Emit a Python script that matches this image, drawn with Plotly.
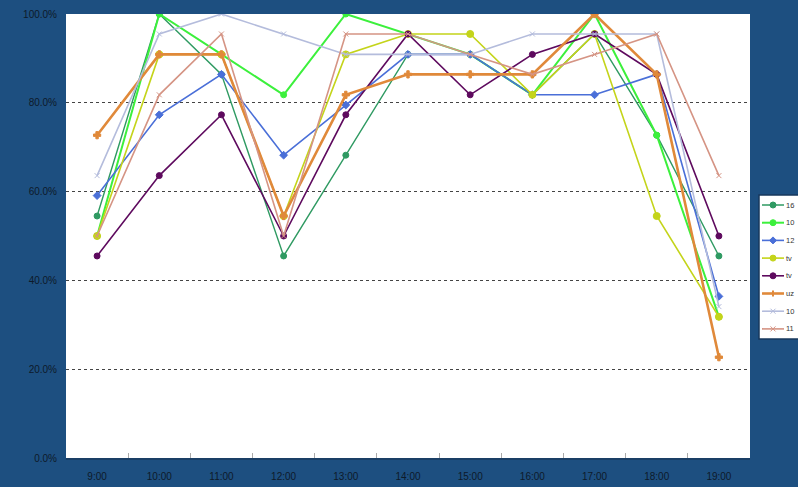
import plotly.graph_objects as go

# Hourly rates per line (percent)
times = ["9:00", "10:00", "11:00", "12:00", "13:00", "14:00",
         "15:00", "16:00", "17:00", "18:00", "19:00"]

names = ["16", "10", "12", "tv", "tv", "uz", "10", "11"]

s_16 = [54.5, 100.0, 86.4, 45.5, 68.2, 90.9, 90.9, 81.8, 95.5, 72.7, 45.5]
s_10a = [50.0, 100.0, 90.9, 81.8, 100.0, 95.5, 90.9, 81.8, 100.0, 72.7, 31.8]
s_12 = [59.1, 77.3, 86.4, 68.2, 79.5, 90.9, 90.9, 81.8, 81.8, 86.4, 36.4]
s_tva = [50.0, 90.9, 90.9, 54.5, 90.9, 95.5, 95.5, 81.8, 95.5, 54.5, 31.8]
s_tvb = [45.5, 63.6, 77.3, 50.0, 77.3, 95.5, 81.8, 90.9, 95.5, 86.4, 50.0]
s_uz = [72.7, 90.9, 90.9, 54.5, 81.8, 86.4, 86.4, 86.4, 100.0, 86.4, 22.7]
s_10b = [63.6, 95.5, 100.0, 95.5, 90.9, 90.9, 90.9, 95.5, 95.5, 95.5, 34.1]
s_11 = [50.0, 81.8, 95.5, 50.0, 95.5, 95.5, 90.9, 86.4, 90.9, 95.5, 63.6]

series = [s_16, s_10a, s_12, s_tva, s_tvb, s_uz, s_10b, s_11]

colors = ["#2f9a62", "#3cf03c", "#4a6fd8", "#c4d41a",
          "#5e0a5e", "#e0893a", "#b4bcdc", "#d59484"]
widths = [1.4, 2.0, 1.6, 1.6, 1.6, 2.6, 1.6, 1.6]
symbols = ["circle", "circle", "diamond", "circle",
           "circle", "cross", "x-thin", "x-thin"]
msizes = [6, 6, 6, 7, 6, 6, 5, 5]

W, H = 798, 487
L, R, T, B = 66, 48, 14, 29
PW, PH = W - L - R, H - T - B


def px(x):
    """Pixel x -> paper x."""
    return (x - L) / PW


def py(y):
    """Pixel y -> paper y."""
    return (H - B - y) / PH


fig = go.Figure()
for name, vals, col, w, sym, ms in zip(names, series, colors, widths, symbols, msizes):
    fig.add_trace(go.Scatter(
        x=times, y=vals, name=name, mode="lines+markers", showlegend=False,
        line=dict(color=col, width=w),
        marker=dict(color=col, symbol=sym, size=ms,
                    line=dict(color=col, width=1)),
    ))

# Legend panel on the right edge, drawn with shapes and annotations
shapes = []
annotations = []
box_l, box_t, box_b = 759, 195, 339
shapes.append(dict(type="rect", xref="paper", yref="paper",
                   x0=px(box_l), x1=px(W + 10), y0=py(box_b), y1=py(box_t),
                   fillcolor="#ffffff", line=dict(color="#17385c", width=1.5),
                   layer="above"))
row0, step = 205, 17.7
for i, (name, col, w, sym) in enumerate(zip(names, colors, widths, symbols)):
    yy = row0 + i * step
    shapes.append(dict(type="line", xref="paper", yref="paper",
                       x0=px(762), x1=px(784), y0=py(yy), y1=py(yy),
                       line=dict(color=col, width=max(w, 1.5)), layer="above"))
    cx = 773
    if sym == "circle":
        shapes.append(dict(type="circle", xref="paper", yref="paper",
                           x0=px(cx - 3), x1=px(cx + 3), y0=py(yy + 3), y1=py(yy - 3),
                           fillcolor=col, line=dict(color=col, width=1), layer="above"))
    elif sym == "diamond":
        path = "M {} {} L {} {} L {} {} L {} {} Z".format(
            px(cx), py(yy - 3.5), px(cx + 3.5), py(yy),
            px(cx), py(yy + 3.5), px(cx - 3.5), py(yy))
        shapes.append(dict(type="path", xref="paper", yref="paper", path=path,
                           fillcolor=col, line=dict(color=col, width=1), layer="above"))
    elif sym == "cross":
        shapes.append(dict(type="line", xref="paper", yref="paper",
                           x0=px(cx), x1=px(cx), y0=py(yy - 3), y1=py(yy + 3),
                           line=dict(color=col, width=2), layer="above"))
    else:
        for d in (1, -1):
            shapes.append(dict(type="line", xref="paper", yref="paper",
                               x0=px(cx - 2.5), x1=px(cx + 2.5),
                               y0=py(yy - 2.5 * d), y1=py(yy + 2.5 * d),
                               line=dict(color=col, width=1), layer="above"))
    annotations.append(dict(xref="paper", yref="paper", x=px(784), y=py(yy),
                            xanchor="left", yanchor="middle", showarrow=False,
                            text=name, font=dict(size=7.5, color="#333333")))

fig.update_layout(
    width=W, height=H,
    paper_bgcolor="#1d4f80",
    plot_bgcolor="#ffffff",
    margin=dict(l=L, r=R, t=T, b=B, autoexpand=False),
    font=dict(family="Liberation Sans, Arial, sans-serif", size=10, color="#111111"),
    showlegend=False,
    shapes=shapes,
    annotations=annotations,
)

fig.update_xaxes(
    type="category",
    tickson="boundaries",
    ticks="inside", ticklen=5, tickcolor="#aaaaaa",
    showgrid=False,
    showline=True, linecolor="#1a3f66", linewidth=2,
    tickfont=dict(size=10, color="#0d1a2a"),
    ticklabelstandoff=8,
    range=[-0.5, 10.5],
)

fig.update_yaxes(
    range=[0, 100],
    tickvals=[0, 20, 40, 60, 80, 100],
    ticktext=["0.0%", "20.0%", "40.0%", "60.0%", "80.0%", "100.0%"],
    showgrid=True, gridcolor="#444444", gridwidth=1, griddash="dot",
    zeroline=False, showline=False,
    ticks="", tickfont=dict(size=10, color="#0d1a2a"),
    ticklabelstandoff=8,
)

fig.write_html("out.html")
